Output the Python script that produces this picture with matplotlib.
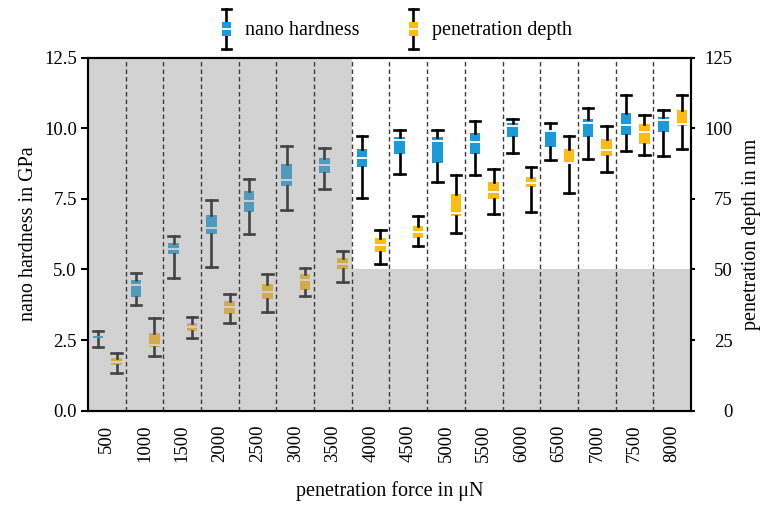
import matplotlib
matplotlib.use("Agg")
import matplotlib.pyplot as plt
from matplotlib.legend_handler import HandlerBase
from matplotlib.lines import Line2D
from matplotlib.patches import Rectangle
import numpy as np

plt.rcParams['font.family'] = ['Liberation Serif', 'DejaVu Serif']

# ---------------- data ----------------
forces = ["500", "1000", "1500", "2000", "2500", "3000", "3500", "4000",
          "4500", "5000", "5500", "6000", "6500", "7000", "7500", "8000"]

# nano hardness in GPa
h_lo  = [2.26, 3.74, 4.68, 5.09, 6.24, 7.10, 7.83, 7.54, 8.37, 8.08, 8.34, 9.13, 8.87, 8.90, 9.20, 9.01]
h_q1  = [2.57, 4.01, 5.54, 6.27, 7.02, 7.95, 8.40, 8.63, 9.10, 8.75, 9.08, 9.69, 9.34, 9.67, 9.75, 9.87]
h_med = [2.60, 4.45, 5.74, 6.45, 7.43, 8.18, 8.69, 8.93, 9.58, 9.55, 9.52, 10.07, 9.89, 10.17, 10.11, 10.28]
h_q3  = [2.63, 4.62, 5.94, 6.92, 7.77, 8.73, 8.95, 9.28, 9.67, 9.67, 9.83, 10.17, 9.93, 10.34, 10.54, 10.40]
h_hi  = [2.83, 4.86, 6.18, 7.45, 8.21, 9.38, 9.29, 9.72, 9.95, 9.95, 10.26, 10.34, 10.19, 10.70, 11.19, 10.66]

# penetration depth in nm
d_lo  = [13.4, 19.3, 25.6, 30.9, 35.0, 40.7, 45.6, 52.1, 58.4, 63.0, 69.6, 70.2, 76.9, 84.6, 90.4, 92.6]
d_q1  = [16.2, 22.6, 28.2, 34.2, 39.4, 42.7, 50.2, 56.3, 61.3, 68.9, 74.8, 79.2, 87.3, 90.1, 94.3, 100.7]
d_med = [17.3, 23.2, 29.7, 36.6, 42.1, 46.2, 52.1, 58.8, 63.3, 69.8, 77.5, 80.7, 87.7, 92.2, 98.7, 101.4]
d_q3  = [18.5, 27.6, 31.1, 38.9, 44.7, 48.3, 53.9, 61.0, 65.3, 76.7, 81.0, 82.8, 92.6, 96.1, 101.4, 106.4]
d_hi  = [20.5, 32.7, 33.3, 41.3, 48.3, 50.4, 56.5, 63.9, 69.0, 83.3, 85.5, 86.3, 97.4, 100.8, 104.6, 111.7]

h_ticks = [0.0, 2.5, 5.0, 7.5, 10.0, 12.5]
d_ticks = [0, 25, 50, 75, 100, 125]
gray_force_idx = 6      # last index fully shaded (3500 µN)
gray_depth_limit = 50   # shading below this depth (nm) elsewhere

BLUE = "#1a9ad6"
YELLOW = "#fdbb13"
FS_TICK = 13.5
FS_LAB = 14.5

# ---------------- figure ----------------
fig = plt.figure(figsize=(7.8, 5.05), dpi=100)
ax = fig.add_axes([0.1128, 0.1867, 0.7731, 0.6994])
ax2 = ax.twinx()

x = np.arange(len(forces))


def stats(lo, q1, med, q3, hi):
    return [dict(whislo=a, q1=b, med=c, q3=d, whishi=e, fliers=[])
            for a, b, c, d, e in zip(lo, q1, med, q3, hi)]


def draw(axis, st, pos, color):
    art = axis.bxp(st, positions=pos, widths=0.28, capwidths=0.28,
                   patch_artist=True, showfliers=False, manage_ticks=False,
                   boxprops=dict(facecolor=color, edgecolor='none', linewidth=0),
                   whiskerprops=dict(color='black', linewidth=1.9),
                   capprops=dict(color='black', linewidth=1.9),
                   medianprops=dict(color='white', linewidth=1.3))
    for s, m in zip(st, art['medians']):
        if s['q3'] - s['q1'] < 0.1:
            m.set_color(color)
    return art


draw(ax, stats(h_lo, h_q1, h_med, h_q3, h_hi), x - 0.23, BLUE)
draw(ax2, stats(d_lo, d_q1, d_med, d_q3, d_hi), x + 0.26, YELLOW)

ax.set_xlim(-0.5, len(forces) - 0.5)
ax.set_ylim(h_ticks[0], h_ticks[-1])
ax2.set_ylim(d_ticks[0], d_ticks[-1])

# shaded overlay (on top axis so it covers both series)
ov = dict(color="#9a9a9a", alpha=0.44, linewidth=0, zorder=5)
ax2.axvspan(-0.5, gray_force_idx + 0.5, **ov)
ax2.add_patch(Rectangle((gray_force_idx + 0.5, 0), len(forces) - 1 - gray_force_idx,
                        gray_depth_limit, **ov))

for xi in x[:-1]:
    ax2.axvline(xi + 0.5, color="#3a3a3a", linewidth=1.0,
                linestyle=(0, (3.2, 2.2)), zorder=6)

# ticks
ax.set_xticks(x)
ax.set_xticklabels(forces, rotation=90, fontsize=FS_TICK)
ax.tick_params(axis='x', length=0, pad=10)
ax.set_yticks(h_ticks)
ax.set_yticklabels([f"{t:.1f}" for t in h_ticks], fontsize=FS_TICK)
ax.tick_params(axis='y', length=5, width=1.5, direction='out', pad=3)
ax2.set_yticks(d_ticks)
ax2.set_yticklabels([str(t) for t in d_ticks], fontsize=FS_TICK)
ax2.tick_params(axis='y', length=3, width=1.5, direction='out', pad=27)
for lab in ax2.get_yticklabels():
    lab.set_horizontalalignment('right')

for a in (ax, ax2):
    for sp in a.spines.values():
        sp.set_linewidth(1.5)
        sp.set_color('black')
        sp.set_zorder(7)

ax.set_ylabel("nano hardness in GPa", fontsize=FS_LAB, labelpad=4)
ax2.set_ylabel("penetration depth in nm", fontsize=FS_LAB, labelpad=7)
ax.set_xlabel("penetration force in μN", fontsize=FS_LAB, labelpad=14)


# ---------------- legend ----------------
class BoxHandler(HandlerBase):
    def __init__(self, color):
        super().__init__()
        self.color = color

    def create_artists(self, legend, orig_handle, xdescent, ydescent,
                       width, height, fontsize, trans):
        cx = width / 2 - xdescent
        y0 = -ydescent
        bw = width * 0.8
        arts = [
            Line2D([cx, cx], [y0, y0 + height], color='black', linewidth=1.9),
            Line2D([cx - bw / 2, cx + bw / 2], [y0, y0], color='black', linewidth=1.9),
            Line2D([cx - bw / 2, cx + bw / 2], [y0 + height] * 2, color='black', linewidth=1.9),
            Rectangle((cx - bw / 2, y0 + height * 0.34), bw, height * 0.34,
                      facecolor=self.color, edgecolor='none'),
            Line2D([cx - bw / 2, cx + bw / 2], [y0 + height * 0.51] * 2,
                   color='white', linewidth=1.3),
        ]
        for a in arts:
            a.set_transform(trans)
        return arts


h1 = Rectangle((0, 0), 1, 1)
h2 = Rectangle((0, 0), 1, 1)
fig.legend([h1, h2], ["nano hardness", "penetration depth"],
           handler_map={h1: BoxHandler(BLUE), h2: BoxHandler(YELLOW)},
           loc='center', bbox_to_anchor=(0.508, 0.942), ncol=2, frameon=False,
           fontsize=FS_LAB, handlelength=0.55, handleheight=2.7,
           handletextpad=0.65, columnspacing=2.4, borderpad=0)

fig.savefig("out.png", dpi=100)
